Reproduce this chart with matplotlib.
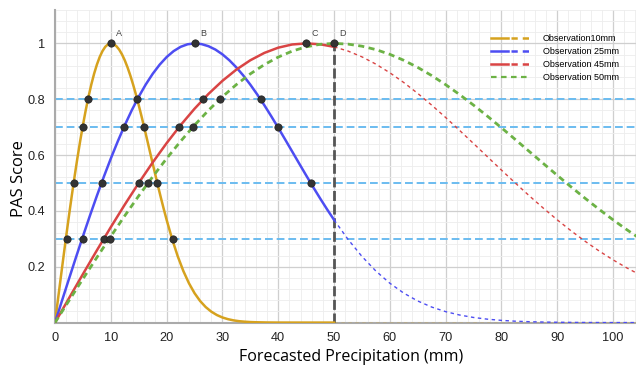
import numpy as np
import matplotlib
matplotlib.use("Agg")
import matplotlib.pyplot as plt
from matplotlib.ticker import MultipleLocator
from matplotlib.lines import Line2D
from matplotlib.legend_handler import HandlerTuple

# curve A (obs 10 mm), sampled finer because it is narrow
x_a = [0, 0.5, 1, 1.5, 2, 2.5, 3, 3.5, 4, 4.5, 5, 5.5, 6, 6.5, 7, 7.5, 8, 8.5, 9, 9.5,
       10, 10.5, 11, 11.5, 12, 12.5, 13, 13.5, 14, 14.5, 15, 15.5, 16, 16.5, 17, 17.5,
       18, 18.5, 19, 19.5, 20,
       21, 22, 23, 24, 25, 26, 27, 28, 29, 30, 31, 32, 33, 34, 35, 36, 38, 40, 45,
       50, 60, 70, 80, 90, 100, 105]
y_a = [0, 0.0785, 0.1564, 0.2334, 0.3090, 0.3827, 0.4540, 0.5225, 0.5878, 0.6494,
       0.7071, 0.7604, 0.8090, 0.8526, 0.8910, 0.9239, 0.9511, 0.9724, 0.9877, 0.9969,
       1.0, 0.9975, 0.9900, 0.9778, 0.9608, 0.9394, 0.9139, 0.8847, 0.8521, 0.8167,
       0.7788, 0.7390, 0.6977, 0.6554, 0.6126, 0.5698, 0.5273, 0.4855, 0.4449, 0.4056,
       0.3679,
       0.2982, 0.2369, 0.1845, 0.1409, 0.1054, 0.0773, 0.0556, 0.0392, 0.0271, 0.0183,
       0.0122, 0.0079, 0.0050, 0.0032, 0.0019, 0.0012, 0.0004, 0.0001, 0.0,
       0.0, 0.0, 0.0, 0.0, 0.0, 0.0, 0.0]

# curve B (obs 25 mm)
x_b = [0, 1.25, 2.5, 3.75, 5, 6.25, 7.5, 8.75, 10, 11.25, 12.5, 13.75, 15, 16.25, 17.5,
       18.75, 20, 21.25, 22.5, 23.75, 25, 26.25, 27.5, 28.75, 30, 31.25, 32.5, 33.75,
       35, 36.25, 37.5, 38.75, 40, 41.25, 42.5, 43.75, 45, 46.25, 47.5, 48.75, 50,
       52.5, 55, 57.5, 60, 62.5, 65, 67.5, 70, 72.5, 75, 77.5, 80, 82.5, 85, 87.5, 90,
       92.5, 95, 97.5, 100, 102.5, 105]
y_b = [0, 0.0785, 0.1564, 0.2334, 0.3090, 0.3827, 0.4540, 0.5225, 0.5878, 0.6494,
       0.7071, 0.7604, 0.8090, 0.8526, 0.8910, 0.9239, 0.9511, 0.9724, 0.9877, 0.9969,
       1.0, 0.9975, 0.9900, 0.9778, 0.9608, 0.9394, 0.9139, 0.8847, 0.8521, 0.8167,
       0.7788, 0.7390, 0.6977, 0.6554, 0.6126, 0.5698, 0.5273, 0.4855, 0.4449, 0.4056,
       0.3679,
       0.2982, 0.2369, 0.1845, 0.1409, 0.1054, 0.0773, 0.0556, 0.0392, 0.0271, 0.0183,
       0.0122, 0.0079, 0.0050, 0.0032, 0.0019, 0.0012, 0.0007, 0.0004, 0.0002, 0.0001,
       0.0001, 0.0]

# curves C and D share one x grid
x_grid = [0, 2.5, 5, 7.5, 10, 12.5, 15, 17.5, 20, 22.5, 25, 27.5, 30, 32.5, 35, 37.5,
          40, 42.5, 45, 47.5, 50, 52.5, 55, 57.5, 60, 62.5, 65, 67.5, 70, 72.5, 75,
          77.5, 80, 82.5, 85, 87.5, 90, 92.5, 95, 97.5, 100, 102.5, 105]
y_c = [0, 0.0872, 0.1736, 0.2588, 0.3420, 0.4226, 0.5000, 0.5736, 0.6428, 0.7071, 0.7660,
       0.8192, 0.8660, 0.9063, 0.9397, 0.9659, 0.9848, 0.9962, 1.0, 0.9969, 0.9877,
       0.9726, 0.9518, 0.9257, 0.8948, 0.8597, 0.8208, 0.7788, 0.7345, 0.6883, 0.6412,
       0.5936, 0.5461, 0.4994, 0.4538, 0.4098, 0.3679, 0.3282, 0.2910, 0.2564, 0.2245,
       0.1954, 0.1690]
y_d = [0, 0.0785, 0.1564, 0.2334, 0.3090, 0.3827, 0.4540, 0.5225, 0.5878, 0.6494, 0.7071,
       0.7604, 0.8090, 0.8526, 0.8910, 0.9239, 0.9511, 0.9724, 0.9877, 0.9969, 1.0,
       0.9975, 0.9900, 0.9778, 0.9608, 0.9394, 0.9139, 0.8847, 0.8521, 0.8167, 0.7788,
       0.7390, 0.6977, 0.6554, 0.6126, 0.5698, 0.5273, 0.4855, 0.4449, 0.4056, 0.3679,
       0.3321, 0.2982]

# marked points
pts_x = [10, 25, 45, 50,
         5.97, 14.75, 26.6, 29.6, 36.9,
         4.96, 12.4, 16.0, 22.3, 24.7, 39.9,
         3.35, 8.37, 15.05, 16.7, 18.3, 45.8,
         2.09, 4.95, 8.78, 9.8, 21.1]
pts_y = [1, 1, 1, 1,
         0.8, 0.8, 0.8, 0.8, 0.8,
         0.7, 0.7, 0.7, 0.7, 0.7, 0.7,
         0.5, 0.5, 0.5, 0.5, 0.5, 0.5,
         0.3, 0.3, 0.3, 0.3, 0.3]
peak_names = ["A", "B", "C", "D"]
peak_x = [10, 25, 45, 50]
levels = [0.3, 0.5, 0.7, 0.8]
obs_cut = 50

names = ["Observation10mm", "Observation 25mm", "Observation 45mm", "Observation 50mm"]
colors = ["#d6a21e", "#4d4df2", "#d94444", "#6cb245"]

fig = plt.figure(figsize=(6.36, 3.67), dpi=100)
ax = fig.add_axes([0.0865, 0.121, 0.9135, 0.852])

ax.xaxis.set_major_locator(MultipleLocator(10))
ax.xaxis.set_minor_locator(MultipleLocator(2))
ax.yaxis.set_major_locator(MultipleLocator(0.2))
ax.yaxis.set_minor_locator(MultipleLocator(0.04))
ax.grid(which="major", color="#cfcfcf", lw=0.9)
ax.grid(which="minor", color="#ededed", lw=0.6)
ax.set_axisbelow(True)

for lv in levels:
    ax.axhline(lv, color="#6bbcf0", lw=1.4, ls=(0, (4, 2)), zorder=2)

ax.plot([obs_cut, obs_cut], [0, 1], color="#555555", lw=2, ls=(0, (3.6, 1.3)), zorder=3)

curves = [(np.array(x_a), np.array(y_a)),
          (np.array(x_b), np.array(y_b)),
          (np.array(x_grid), np.array(y_c)),
          (np.array(x_grid), np.array(y_d))]
for i, (xs, ys) in enumerate(curves):
    left = xs <= obs_cut
    right = xs >= obs_cut
    if i == 3:
        ax.plot(xs, ys, color=colors[i], lw=2, ls=(0, (2.2, 1.6)), zorder=4)
    else:
        ax.plot(xs[left], ys[left], color=colors[i], lw=1.8, zorder=4)
        ax.plot(xs[right], ys[right], color=colors[i], lw=1.0, ls=(0, (2.5, 2.5)), zorder=4)

ax.scatter(pts_x, pts_y, s=28, color="#333333", edgecolor="#222222", lw=0.5, zorder=6)
for nm, px in zip(peak_names, peak_x):
    ax.annotate(nm, (px, 1), xytext=(4, 5), textcoords="offset points",
                fontsize=6.5, color="#444444", family="Liberation Sans")

ax.set_xlim(0, 104.1)
ax.set_ylim(0, 1.12)
ax.set_xticks([0, 10, 20, 30, 40, 50, 60, 70, 80, 90, 100])
ax.set_yticks([0.2, 0.4, 0.6, 0.8, 1.0])
ax.set_yticklabels(["0.2", "0.4", "0.6", "0.8", "1"])
ax.tick_params(which="both", length=0, labelsize=9.2, labelcolor="#222222")
ax.tick_params(axis="x", pad=7)
ax.tick_params(axis="y", pad=7)
for lab in ax.get_xticklabels() + ax.get_yticklabels():
    lab.set_family("Liberation Sans")

for s in ["top", "right"]:
    ax.spines[s].set_visible(False)
for s in ["left", "bottom"]:
    ax.spines[s].set_color("#aaaaaa")
    ax.spines[s].set_linewidth(1.5)

ax.set_xlabel("Forecasted Precipitation (mm)", fontsize=11.5, family="Open Sans")
ax.set_ylabel("PAS Score", fontsize=12, family="Open Sans")
ax.xaxis.set_label_coords(0.51, -0.083)
ax.yaxis.set_label_coords(-0.048, 0.46)

handles = []
for i in range(4):
    if i == 3:
        handles.append(Line2D([], [], color=colors[i], lw=1.6, ls=(0, (2.5, 2))))
    else:
        handles.append((Line2D([], [], color=colors[i], lw=1.8),
                        Line2D([], [], color=colors[i], lw=1.8, ls=(0, (2.5, 2)))))
leg = ax.legend(handles, names, loc="upper left", bbox_to_anchor=(0.736, 0.95),
                frameon=False, handlelength=4.2, handletextpad=1.6,
                labelspacing=0.45, prop={"family": "Liberation Sans", "size": 6.5},
                handler_map={tuple: HandlerTuple(ndivide=None, pad=0.3)})

fig.savefig("out.png", dpi=100)
